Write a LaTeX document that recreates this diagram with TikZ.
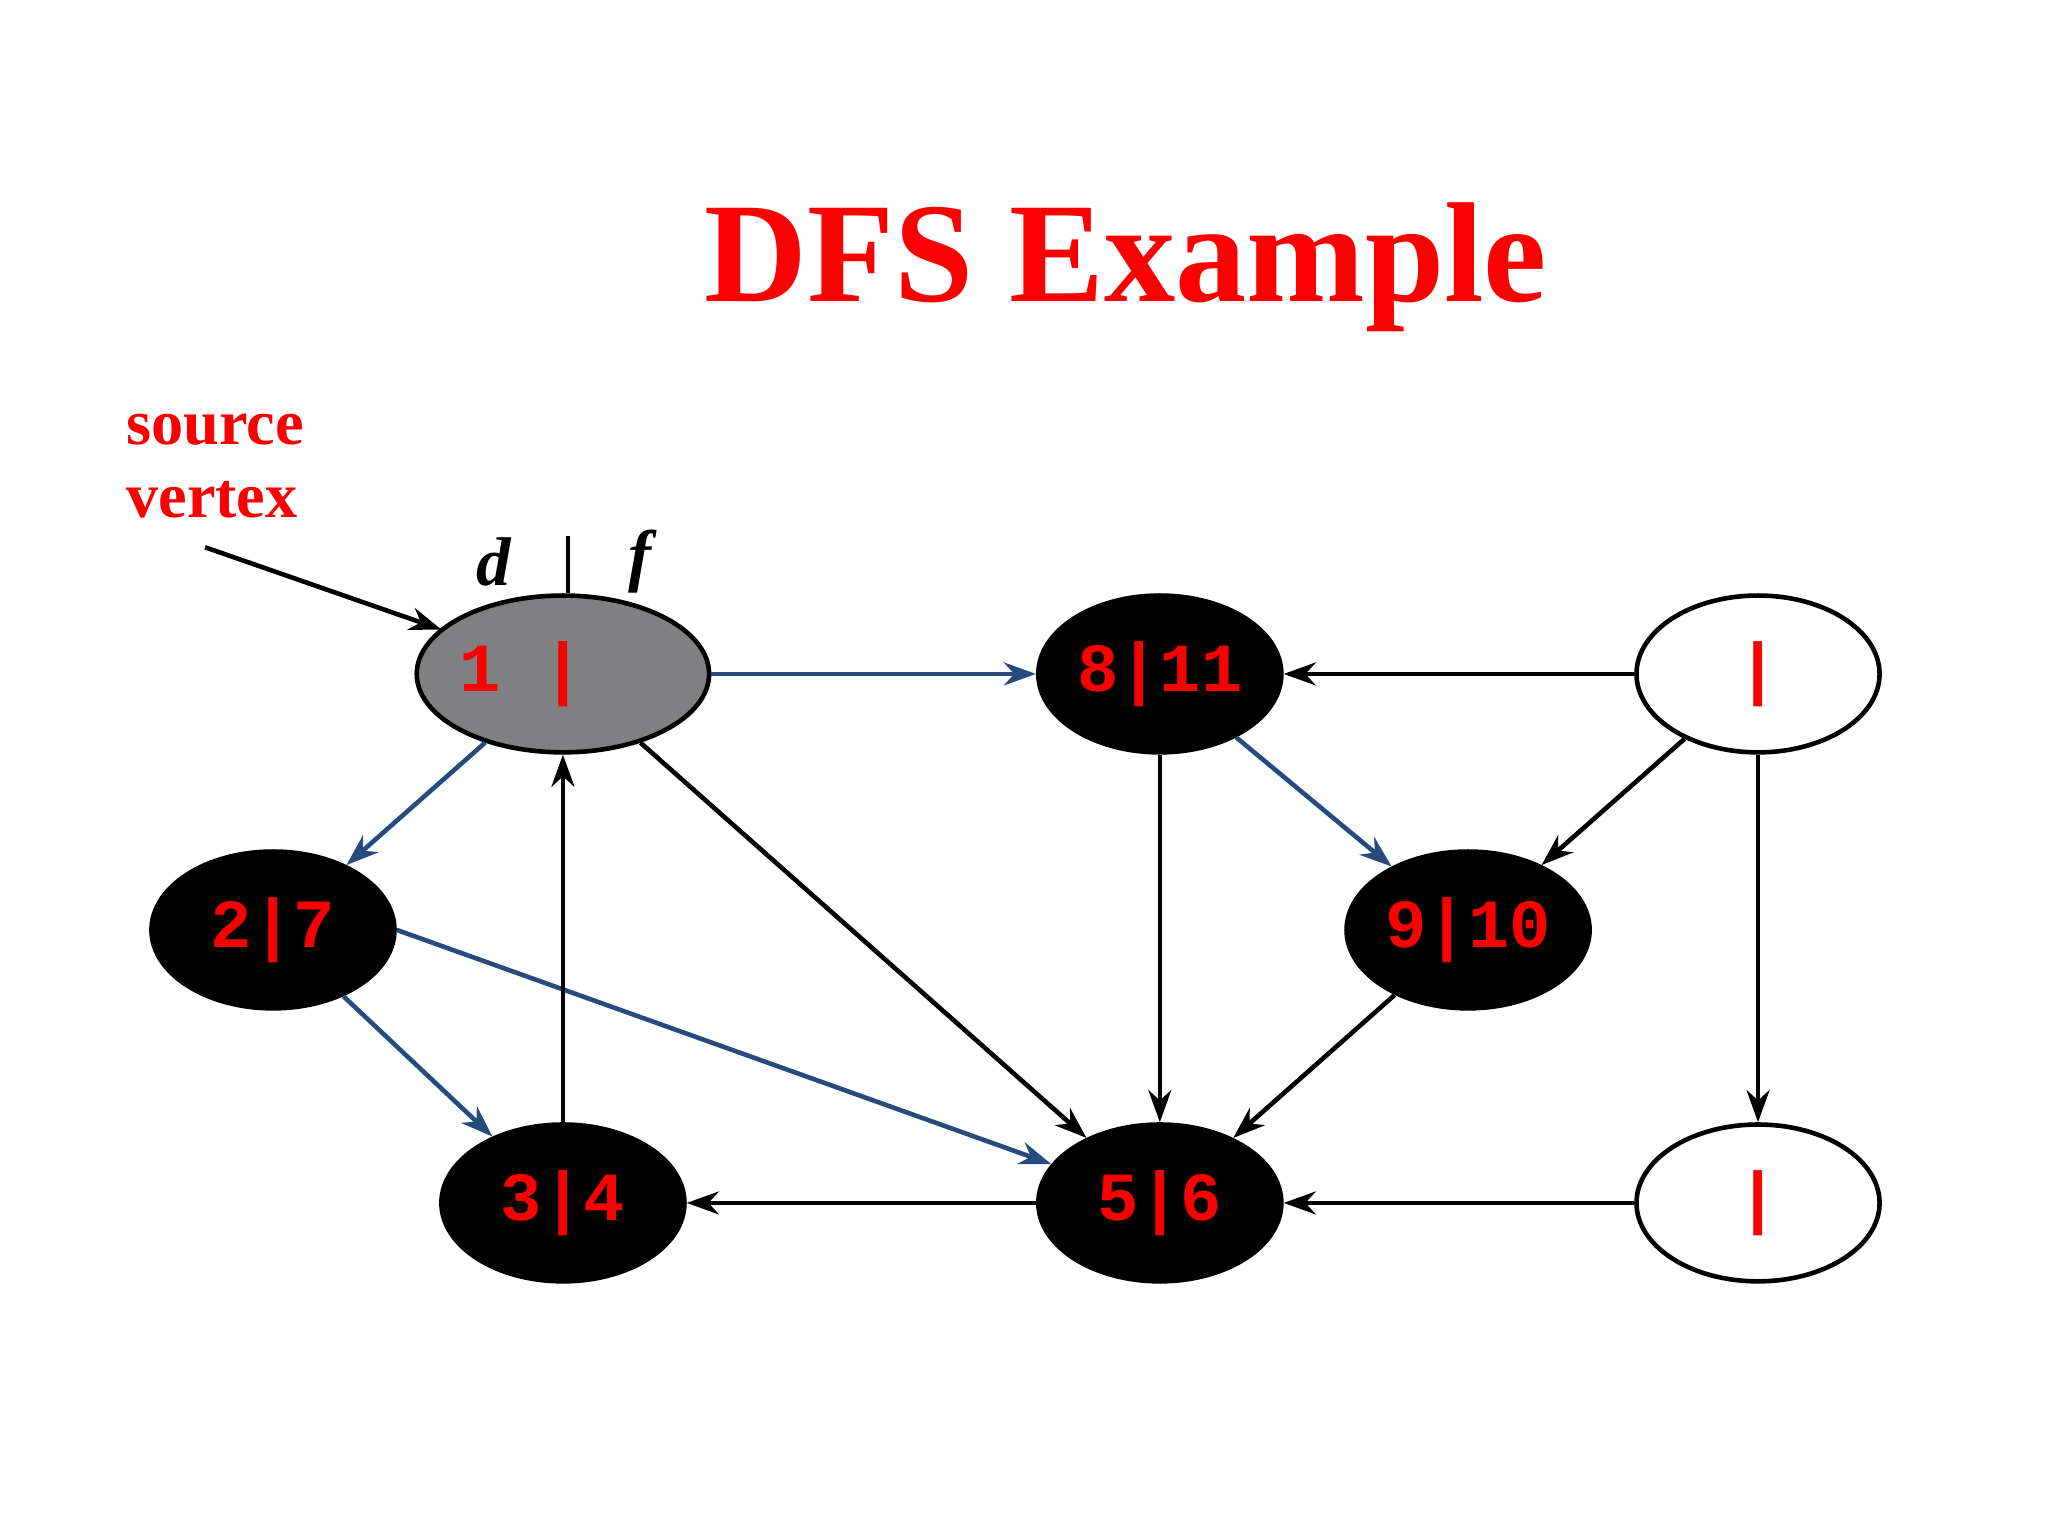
\documentclass[tikz,border=0pt]{standalone}
\usepackage{fontspec}
\setmainfont{Liberation Serif}
\newfontfamily\monof{Liberation Mono}
\usetikzlibrary{shapes.geometric,arrows.meta}
\definecolor{tblue}{RGB}{40,75,125}
\definecolor{tred}{RGB}{250,0,0}
\definecolor{tgray}{RGB}{128,127,130}
\tikzset{
 vtx/.style={ellipse,draw=black,line width=1pt,minimum width=1.86cm,minimum height=1.2cm,inner sep=0pt,font=\monof\bfseries\fontsize{15}{15}\selectfont,text=tred},
 blk/.style={vtx,fill=black},
 wht/.style={vtx,fill=white},
 gry/.style={vtx,fill=tgray},
 ed/.style={line width=1pt,-{Stealth[length=7pt,width=5pt]}},
 te/.style={ed,draw=tblue},
}
\begin{document}
\begin{tikzpicture}[x=0.01cm,y=-0.01cm]
\useasboundingbox[fill=white] (0,0) rectangle (1568,1176);
\node[font=\bfseries\fontsize{31}{31}\selectfont,text=tred] (title) at (862,205) {DFS Example};
\node[font=\bfseries\fontsize{14}{16}\selectfont,text=tred,align=left,anchor=north west,inner sep=0pt] (src) at (96,316) {source\\vertex};
\node[gry] (A) at (431,516) {1\phantom{1}|\phantom{11}};
\node[blk] (B) at (888,516) {8|11};
\node[wht] (C) at (1346,516) {|};
\node[blk] (D) at (209,712) {2|7};
\node[blk] (E) at (1124,712) {9|10};
\node[blk] (F) at (431,921) {3|4};
\node[blk] (G) at (888,921) {5|6};
\node[wht] (H) at (1346,921) {|};
\node[font=\itshape\bfseries\fontsize{15}{15}\selectfont] (dl) at (378,430) {d};
\node[font=\itshape\bfseries\fontsize{15}{15}\selectfont] (fl) at (490,430) {f};
\coordinate (bar) at (435,410);
\draw[line width=1pt] (bar) -- (A.north -| bar);
\coordinate (s0) at (157,419);
\draw[ed] (s0) -- (338,482) coordinate (s1);
\draw[te] (A) -- (B);
\draw[ed] (C) -- (B);
\draw[te] (A) -- (D);
\draw[ed] (A) -- (G);
\draw[ed] (B) -- (G);
\draw[te] (B) -- (E);
\draw[ed] (C) -- (E);
\draw[ed] (C) -- (H);
\draw[te] (D) -- (F);
\draw[te] (D.east) -- (G);
\draw[ed] (F) -- (A);
\draw[ed] (E) -- (G);
\draw[ed] (G) -- (F);
\draw[ed] (H) -- (G);
\end{tikzpicture}
\end{document}
